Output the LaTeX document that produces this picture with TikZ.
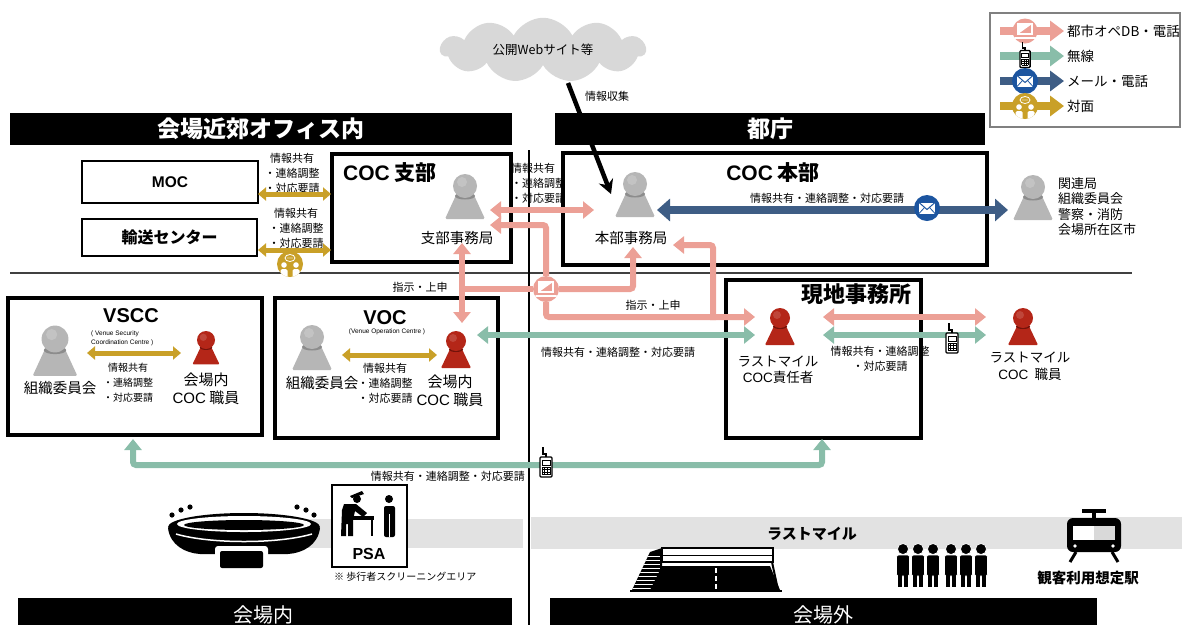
\documentclass[tikz,border=0pt]{standalone}
\usepackage{fontspec}
\setmainfont{Noto Sans CJK JP}
\newfontfamily\latin{Liberation Sans}
\usetikzlibrary{arrows.meta,shapes.symbols,calc}

\definecolor{pk}{RGB}{236,160,150}
\definecolor{tl}{RGB}{137,189,169}
\definecolor{nv}{RGB}{62,93,133}
\definecolor{gd}{RGB}{201,160,40}
\definecolor{envblue}{RGB}{28,85,160}
\definecolor{pgray}{RGB}{182,182,182}
\definecolor{pgrayd}{RGB}{140,140,140}
\definecolor{pred}{RGB}{180,38,24}
\definecolor{predd}{RGB}{115,18,10}
\definecolor{band}{RGB}{226,226,226}
\definecolor{cloudgray}{RGB}{216,216,216}

\tikzset{
  lbl/.style={font=\fontsize{11}{15}\selectfont, inner sep=0pt, align=center},
  lbls/.style={font=\fontsize{10}{15}\selectfont, inner sep=0pt, align=center},
  pname/.style={font=\fontsize{14.5}{17}\selectfont, inner sep=0pt, align=center},
  thinbox/.style={draw, line width=1.3pt, fill=white, inner sep=0pt},
  thickbox/.style={draw, line width=3.5pt, fill=white, inner sep=0pt},
  titlebar/.style={fill=black, text=white, inner sep=0pt, font=\fontsize{23}{23}\bfseries\selectfont},
  ttl/.style={inner sep=0pt, font=\fontsize{21}{21}\bfseries\selectfont},
  ttlL/.style={inner sep=0pt, font=\latin\fontsize{20}{20}\bfseries\selectfont},
  tinytxt/.style={inner sep=0pt, font=\latin\fontsize{6.5}{9}\selectfont, align=left},
  pkline/.style={draw=pk, line width=6pt, rounded corners=3pt},
  pkend/.style={pkline, -{Triangle[width=17pt,length=11pt]}},
  pkboth/.style={pkline, {Triangle[width=17pt,length=11pt]}-{Triangle[width=17pt,length=11pt]}},
  tlboth/.style={draw=tl, line width=6pt, rounded corners=3pt, {Triangle[width=17pt,length=11pt]}-{Triangle[width=17pt,length=11pt]}},
  nvboth/.style={draw=nv, line width=8pt, {Triangle[width=22pt,length=13pt]}-{Triangle[width=22pt,length=13pt]}},
  gdboth/.style={draw=gd, line width=5pt, {Triangle[width=13pt,length=8pt]}-{Triangle[width=13pt,length=8pt]}},
  lgarrow/.style={line width=8pt, -{Triangle[width=20pt,length=14pt]}},
  lgtxt/.style={inner sep=0pt, anchor=west, font=\fontsize{13.5}{13.5}\selectfont},
  grayperson/.pic={
    \fill[pgray, rounded corners=1.5pt] (-8,7) -- (8,7) -- (20,33) -- (-20,33) -- cycle;
    \fill[pgrayd] (0,10) ellipse [x radius=10pt, y radius=3.5pt];
    \fill[pgray] (0,0) circle [radius=12pt];
    \fill[white, opacity=0.18] (-3,-4) circle [radius=5pt];
  },
  redperson/.pic={
    \fill[pred, rounded corners=1pt] (-5,6) -- (5,6) -- (15,27) -- (-15,27) -- cycle;
    \fill[predd] (0,8.5) ellipse [x radius=7pt, y radius=2.5pt];
    \fill[pred] (0,0) circle [radius=10pt];
    \fill[white, opacity=0.15] (-3,-3) circle [radius=4pt];
  },
  laptopicon/.pic={
    \fill[white] (-7,-7) -- (7,-7) -- (-7,3) -- cycle;
    \draw[white, line width=1.5pt] (-7,-7) rectangle (7,3);
    \draw[white, line width=2pt, line cap=round] (-10,6.5) -- (10,6.5);
  },
  mailicon/.pic={
    \fill[white] (-8,-5.5) rectangle (8,5.5);
    \draw[envblue, line width=1pt] (-8,-5.5) -- (0,1.5) -- (8,-5.5);
    \draw[envblue, line width=0.8pt] (-8,5.5) -- (-2.5,-0.5) (8,5.5) -- (2.5,-0.5);
  },
  meeticon/.pic={
    \fill[gd] (0,0) circle [radius=13pt];
    \begin{scope}
      \clip (0,0) circle [radius=13pt];
      \fill[white] (-6,1) circle [radius=2.8pt];
      \fill[white] (6,1) circle [radius=2.8pt];
      \fill[white, rounded corners=1.5pt] (-9.5,5) rectangle (-2.5,16);
      \fill[white, rounded corners=1.5pt] (2.5,5) rectangle (9.5,16);
    \end{scope}
    \draw[white, line width=0.8pt] (0,-6) ellipse [x radius=5pt, y radius=3.5pt];
    \fill[white] (-2,-6) circle [radius=0.6pt] (0,-6) circle [radius=0.6pt] (2,-6) circle [radius=0.6pt];
  },
  walkie/.pic={
    \draw[line width=1.1pt] (-3,-20) -- (-3,-13) -- (0,-13) -- (0,-10);
    \filldraw[fill=white, line width=1.3pt, rounded corners=1pt] (-6,-10) rectangle (6,10);
    \draw[line width=0.8pt] (-4,-7) rectangle (4,-2);
    \foreach \yy in {0,2.5,5,7.5} \draw[line width=0.6pt] (-4,\yy) -- (4,\yy);
    \foreach \xx in {-4,-1.33,1.33,4} \draw[line width=0.6pt] (\xx,0) -- (\xx,7.5);
  }
}

\begin{document}
\begin{tikzpicture}[x=1pt,y=-1pt]
\useasboundingbox (0,0) rectangle (1182,625);

% ---------- background bands and dividers ----------
\fill[band] (240,519) rectangle (523,548);
\fill[band] (531,517) rectangle (1182,549);
\draw[line width=1.2pt, black!75] (10,273) -- (1132,273);
\draw[line width=1.1pt] (529,150) -- (529,625);

% ---------- section bars ----------
\node[titlebar, minimum width=502pt, minimum height=32pt] (barOffice) at (261,129) {会場近郊オフィス内};
\node[titlebar, minimum width=430pt, minimum height=32pt] (barTocho) at (770,129) {都庁};
\fill[black] (18,598) rectangle (512,625);
\fill[black] (550,598) rectangle (1097,625);
\node[inner sep=0pt, text=white, font=\fontsize{20}{20}\selectfont] (barIn) at (263,615) {会場内};
\node[inner sep=0pt, text=white, font=\fontsize{20}{20}\selectfont] (barOut) at (823,615) {会場外};

% ---------- public web ----------
\node[cloud, cloud puffs=11, cloud puff arc=125, aspect=3.4, fill=cloudgray, minimum width=205pt, minimum height=60pt, inner sep=0pt,
      font=\fontsize{12.5}{12.5}\selectfont] (web) at (543,50) {公開Webサイト等};
\coordinate (webfoot) at (568,83);
\coordinate (honbuIn) at (611,194);
\node[lbl, anchor=west] (tCollect) at (585,96) {情報収集};

% ---------- labels lying under the boxes ----------
\node[lbl] (tMOC) at (292,173) {情報共有\\・連絡調整\\・対応要請};
\node[lbl] (tYuso) at (296,228) {情報共有\\・連絡調整\\・対応要請};
\node[lbl, align=left, anchor=north west] (tSH) at (511,163) {情報共有\\・連絡調整\\・対応要請};

% ---------- boxes ----------
\node[thinbox, minimum width=176pt, minimum height=42pt, font=\latin\fontsize{15.5}{15.5}\bfseries\selectfont] (moc) at (170,182) {MOC};
\node[thinbox, minimum width=175pt, minimum height=37pt, font=\fontsize{16}{16}\bfseries\selectfont] (yuso) at (169.5,237.5) {輸送センター};
\node[thickbox, minimum width=179pt, minimum height=108pt] (shibu) at (421.5,208) {};
\node[thickbox, minimum width=424pt, minimum height=112pt] (honbu) at (775,209) {};
\node[thickbox, minimum width=254pt, minimum height=137pt] (vscc) at (135,366.5) {};
\node[thickbox, minimum width=223pt, minimum height=140pt] (voc) at (386.5,368) {};
\node[thickbox, minimum width=195pt, minimum height=158pt] (genchi) at (823.5,359) {};

\node[ttl, anchor=west] (tShibu) at (343,173) {{\latin COC} 支部};
\node[ttl] (tHonbu) at (773,173) {{\latin COC} 本部};
\node[ttl, font=\fontsize{22}{22}\bfseries\selectfont] (tGenchi) at (856,294) {現地事務所};
\node[ttlL] (tVSCC) at (131,316) {VSCC};
\node[tinytxt, anchor=west] (sVSCC) at (91,338) {( Venue Security\\Coordination Centre )};
\node[ttlL] (tVOC) at (385,318) {VOC};
\node[tinytxt] (sVOC) at (387,332) {(Venue Operation Centre )};

% ---------- people ----------
\pic (pShibu) at (465,186) {grayperson};
\pic (pHonbu) at (635,184) {grayperson};
\pic (pKan) at (1033,187) {grayperson};
\pic[scale=1.12] (pVsccG) at (55,339) {grayperson};
\pic (pVocG) at (312,337) {grayperson};
\pic[scale=0.9] (pVsccR) at (206,340) {redperson};
\pic (pVocR) at (456,341) {redperson};
\pic (pGenR) at (780,318) {redperson};
\pic (pLmR) at (1023,318) {redperson};

\node[pname] (nShibu) at (457,238) {支部事務局};
\node[pname] (nHonbu) at (631,238) {本部事務局};
\node[inner sep=0pt, align=left, anchor=west, font=\fontsize{13}{15.5}\selectfont] (nKan) at (1058,206.5) {関連局\\組織委員会\\警察・消防\\会場所在区市};
\node[pname] (nVsccG) at (60,388) {組織委員会};
\node[pname] (nVocG) at (322,383) {組織委員会};
\node[pname, font=\fontsize{15}{18}\selectfont] (nVsccR) at (206,389) {会場内\\{\latin COC} 職員};
\node[pname, font=\fontsize{15}{18}\selectfont] (nVocR) at (450,391) {会場内\\{\latin COC} 職員};
\node[pname, font=\fontsize{13.5}{16}\selectfont] (nGenR) at (778,370) {ラストマイル\\{\latin COC}責任者};
\node[pname, font=\fontsize{13.5}{17}\selectfont] (nLmR) at (1030,366.5) {ラストマイル\\{\latin COC}\ \ 職員};

% ---------- connector end points ----------
\coordinate (mocE) at (258,194);   \coordinate (shibuW1) at (331,194);
\coordinate (yusoE) at (258,250);  \coordinate (shibuW2) at (331,250);
\coordinate (shibuR) at (490,210); \coordinate (honbuL) at (594,210);
\coordinate (shibuR2) at (490,225);
\coordinate (shibuD) at (462,243); \coordinate (vocUp) at (462,323);
\coordinate (pkJoin) at (462,289);
\coordinate (honbuD) at (633,247);
\coordinate (genW) at (755,317);
\coordinate (pkRise) at (713,320);
\coordinate (honbuE) at (673,245);
\coordinate (honbuR) at (657,210); \coordinate (kanL) at (1008,210);
\coordinate (vocR) at (477,335);   \coordinate (genW2) at (755,335);
\coordinate (genE1) at (823,317);  \coordinate (lmW1) at (986,317);
\coordinate (genE2) at (823,335);  \coordinate (lmW2) at (986,335);
\coordinate (vsccS) at (133,439);  \coordinate (genS) at (822,439);
\coordinate (radioRun) at (822,465);
\coordinate (vsccA) at (87,353);   \coordinate (vsccB) at (181,353);
\coordinate (vocA) at (342,355);   \coordinate (vocB) at (437,355);

% ---------- information gathering ----------
\draw[line width=4.5pt, -{Stealth[width=15pt,length=14pt]}] (webfoot) -- (honbuIn);

% ---------- face to face ----------
\draw[gdboth] (mocE) -- (shibuW1);
\draw[gdboth] (yusoE) -- (shibuW2);
\draw[gdboth] (vsccA) -- (vsccB);
\draw[gdboth] (vocA) -- (vocB);
\pic (meet) at (290,264) {meeticon};

% ---------- city operation DB / phone ----------
\node[circle, fill=pk, minimum size=26pt, inner sep=0pt] (lap) at (546,289) {};
\draw[pkboth] (shibuR) -- (honbuL);
\draw[pkend] (lap) |- (shibuR2);
\draw[pkboth] (shibuD) -- (vocUp);
\draw[pkline] (pkJoin) -- (lap);
\draw[pkend] (lap) -| (honbuD);
\draw[pkend] (lap) |- (genW);
\draw[pkend] (pkRise) |- (honbuE);
\draw[pkboth] (genE1) -- (lmW1);
\pic at (lap) {laptopicon};

% ---------- mail / phone ----------
\draw[nvboth] (honbuR) -- (kanL);
\node[circle, fill=envblue, minimum size=26pt, inner sep=0pt] (mail) at (927,208) {};
\pic at (mail) {mailicon};

% ---------- radio ----------
\draw[tlboth] (vocR) -- (genW2);
\draw[tlboth] (genE2) -- (lmW2);
\draw[tlboth] (vsccS) |- (radioRun) -- (genS);
\pic (radio1) at (952,343) {walkie};
\pic (radio2) at (546,467) {walkie};

% ---------- connector labels ----------
\node[lbl] (tHB) at (827,198) {情報共有・連絡調整・対応要請};
\node[lbl] (tOrder1) at (420,287) {指示・上申};
\node[lbl] (tOrder2) at (653,305) {指示・上申};
\node[lbl] (tRadio1) at (618,352) {情報共有・連絡調整・対応要請};
\node[lbl] (tRadio2) at (880,359) {情報共有・連絡調整\\・対応要請};
\node[lbl, anchor=east] (tRadio3) at (525,476) {情報共有・連絡調整・対応要請};
\node[lbls] (tVS) at (128,383) {情報共有\\・連絡調整\\・対応要請};
\node[lbls, font=\fontsize{11}{15}\selectfont] (tVO) at (385,383) {情報共有\\・連絡調整\\・対応要請};

% ---------- legend ----------
\node[draw=black!50, line width=2.5pt, fill=white, minimum width=190pt, minimum height=114pt, inner sep=0pt] (legend) at (1085,70) {};
\coordinate (lg1a) at (1000,31); \coordinate (lg1b) at (1064,31);
\coordinate (lg2a) at (1000,56); \coordinate (lg2b) at (1064,56);
\coordinate (lg3a) at (1000,81); \coordinate (lg3b) at (1064,81);
\coordinate (lg4a) at (1000,106); \coordinate (lg4b) at (1064,106);
\draw[lgarrow, draw=pk] (lg1a) -- (lg1b);
\draw[lgarrow, draw=tl] (lg2a) -- (lg2b);
\draw[lgarrow, draw=nv] (lg3a) -- (lg3b);
\draw[lgarrow, draw=gd] (lg4a) -- (lg4b);
\node[circle, fill=pk, minimum size=25pt, inner sep=0pt] (lgLap) at (1025,31) {};
\pic at (lgLap) {laptopicon};
\pic[scale=0.85] (lgRadio) at (1025,59) {walkie};
\node[circle, fill=envblue, minimum size=26pt, inner sep=0pt] (lgMail) at (1025,81) {};
\pic at (lgMail) {mailicon};
\pic (lgMeet) at (1025,106) {meeticon};
\node[lgtxt] (lgT1) at (1067,31) {都市オペDB・電話};
\node[lgtxt] (lgT2) at (1067,56) {無線};
\node[lgtxt] (lgT3) at (1067,81) {メール・電話};
\node[lgtxt] (lgT4) at (1067,106) {対面};

% ---------- stadium ----------
\fill (244,527) ellipse [x radius=76pt, y radius=14pt];
\fill (168,528) .. controls (170,545) and (185,553) .. (200,554) -- (288,554) .. controls (303,553) and (318,545) .. (320,528) -- cycle;
\fill[white] (244,524) ellipse [x radius=67pt, y radius=8pt];
\fill (244,525) ellipse [x radius=60pt, y radius=5pt];
\draw[white, line width=1.5pt] (176,534) .. controls (210,544) and (278,544) .. (312,534);
\fill[white, rounded corners=3pt] (215,546) rectangle (268,562);
\fill[rounded corners=2pt] (220,551) rectangle (263,568);
\foreach \p in {(172,515),(181,510),(190,507),(297,507),(306,510),(314,515)} \fill \p circle [radius=2.6pt];

% ---------- pedestrian screening area ----------
\node[draw, line width=2.5pt, fill=white, minimum width=75pt, minimum height=82pt, inner sep=0pt] (psa) at (369.5,526) {};
\node[inner sep=0pt, font=\latin\fontsize{16}{16}\bfseries\selectfont] (psaT) at (369,554) {PSA};
\fill (389,499) circle [radius=4pt];
\fill[rounded corners=2pt] (384,506) rectangle (395,537);
\draw[white, line width=0.7pt] (389,514) -- (389,537);
\fill (357,499) circle [radius=4pt];
\fill (350,496) -- (362,491) -- (364,494) -- (352,498) -- cycle;
\fill (344,504) -- (356,504) -- (367,513) -- (363,517) -- (355,511) -- (353,520) -- (353,536) -- (348,536) -- (348,524) -- (346,524) -- (346,536) -- (341,536) -- (342,510) -- cycle;
\fill (350,516) rectangle (374,520);
\draw[line width=1.5pt] (352,520) -- (352,536) (372,520) -- (372,536);
\node[inner sep=0pt, anchor=west, font=\fontsize{10}{10}\selectfont] (psaNote) at (334,577) {※ 歩行者スクリーニングエリア};

% ---------- last mile ----------
\node[inner sep=0pt, font=\fontsize{15}{15}\bfseries\selectfont] (lastmile) at (812,534) {ラストマイル};
% pedestrian bridge
\begin{scope}
  \fill (632,590) -- (650,552) -- (662,548) -- (662,590) -- cycle;
  \clip (632,590) -- (650,552) -- (662,548) -- (662,590) -- cycle;
  \foreach \yy in {556,560,...,588} \draw[white, line width=0.9pt] (630,\yy) -- (660,\yy);
\end{scope}
\draw[line width=2pt] (662,548) rectangle (773,562);
\draw[line width=1pt] (662,555) -- (773,555);
\fill (650,590) -- (662,566) -- (770,566) -- (780,590) -- cycle;
\draw[white, line width=2.2pt, dash pattern=on 5pt off 3pt] (716,568) -- (716,590);
\draw[line width=2pt] (772,562) -- (778,590);
\draw[line width=1.5pt] (630,591) -- (782,591);
% crowd
\foreach \xx in {903,918,933,951,966,981} {
  \filldraw[draw=white, line width=0.7pt] (\xx,549) circle [radius=5.5pt];
  \filldraw[draw=white, line width=0.7pt, rounded corners=2pt] (\xx-6.5,555) rectangle (\xx+6.5,576);
  \fill (\xx-5,574) rectangle (\xx-1,587);
  \fill (\xx+1,574) rectangle (\xx+5,587);
}
% station
\fill (1082,509) rectangle (1106,513);
\fill (1092,513) rectangle (1096,518);
\fill[rounded corners=6pt] (1067,518) rectangle (1121,552);
\fill[white] (1073,526) rectangle (1094,540);
\fill[black!15] (1094,526) rectangle (1115,540);
\fill[white] (1075,546) circle [radius=1.8pt] (1113,546) circle [radius=1.8pt];
\draw[line width=3pt] (1076,552) -- (1070,562) (1112,552) -- (1118,562);
\node[inner sep=0pt, font=\fontsize{14.5}{14.5}\bfseries\selectfont] (station) at (1088,578) {観客利用想定駅};

\end{tikzpicture}
\end{document}
